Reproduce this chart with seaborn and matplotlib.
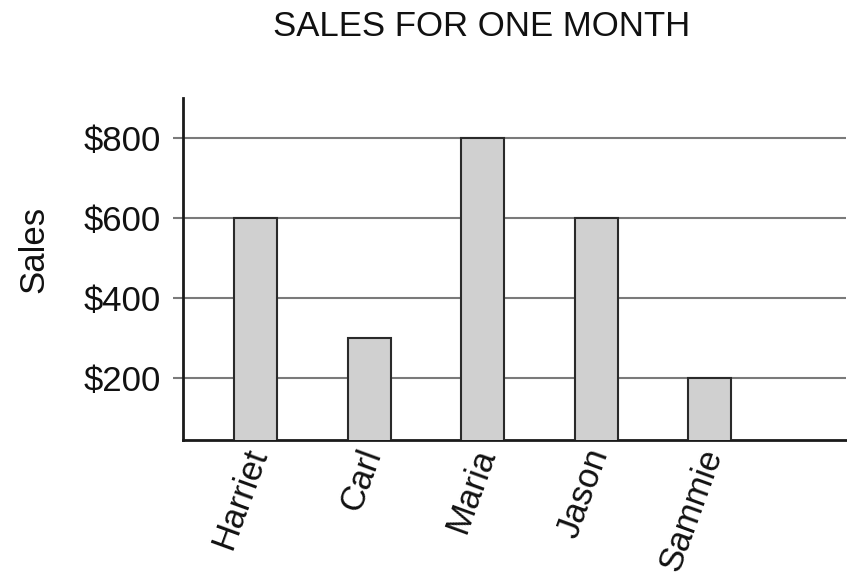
import matplotlib
matplotlib.use("Agg")
import matplotlib.pyplot as plt
import matplotlib.transforms as mtransforms
import seaborn as sns
import pandas as pd

# Monthly sales per salesperson
names = ["Harriet", "Carl", "Maria", "Jason", "Sammie"]
sales = [600, 300, 800, 600, 200]
y_ticks = [200, 400, 600, 800]
y_tick_labels = ["$200", "$400", "$600", "$800"]

df = pd.DataFrame({"name": names, "sales": sales})

sns.set_theme(style="white")
plt.rcParams["font.family"] = ["Liberation Sans", "DejaVu Sans"]

fig = plt.figure(figsize=(8.47, 5.81), dpi=100)
ax = fig.add_axes([0.216, 0.243, 0.783, 0.588])

sns.barplot(data=df, x="name", y="sales", ax=ax, width=0.38,
            color="#d0d0d0", edgecolor="#2a2a2a", linewidth=1.5,
            saturation=1, zorder=3)

ax.set_xlim(-0.64, 5.2)
ax.set_ylim(45, 900)
ax.set_yticks(y_ticks)
ax.set_yticklabels(y_tick_labels, fontsize=25, color="#111111")

ax.yaxis.grid(True, color="#7a7a7a", linewidth=1.5, zorder=0)
ax.set_axisbelow(True)
ax.tick_params(axis="y", length=7, width=1.5, color="#7a7a7a", pad=9, left=True)
ax.tick_params(axis="x", length=0, pad=7)

for lbl in ax.get_xticklabels():
    lbl.set_rotation(70)
    lbl.set_ha("right")
    lbl.set_va("center")
    lbl.set_rotation_mode("anchor")
    lbl.set_fontsize(25)
    lbl.set_color("#111111")
    lbl.set_transform(lbl.get_transform() +
                      mtransforms.ScaledTranslation(2 / 72, 0, fig.dpi_scale_trans))

for side in ["top", "right"]:
    ax.spines[side].set_visible(False)
for side in ["left", "bottom"]:
    ax.spines[side].set_color("#1a1a1a")
    ax.spines[side].set_linewidth(2)

ax.set_xlabel("")
ax.set_ylabel("Sales", fontsize=25, color="#111111")
ax.yaxis.set_label_coords(-0.200, 0.556)

fig.text(0.569, 0.955, "SALES FOR ONE MONTH", ha="center", va="center",
         fontsize=25, color="#111111")

fig.savefig("out.png", dpi=100, facecolor="white")
